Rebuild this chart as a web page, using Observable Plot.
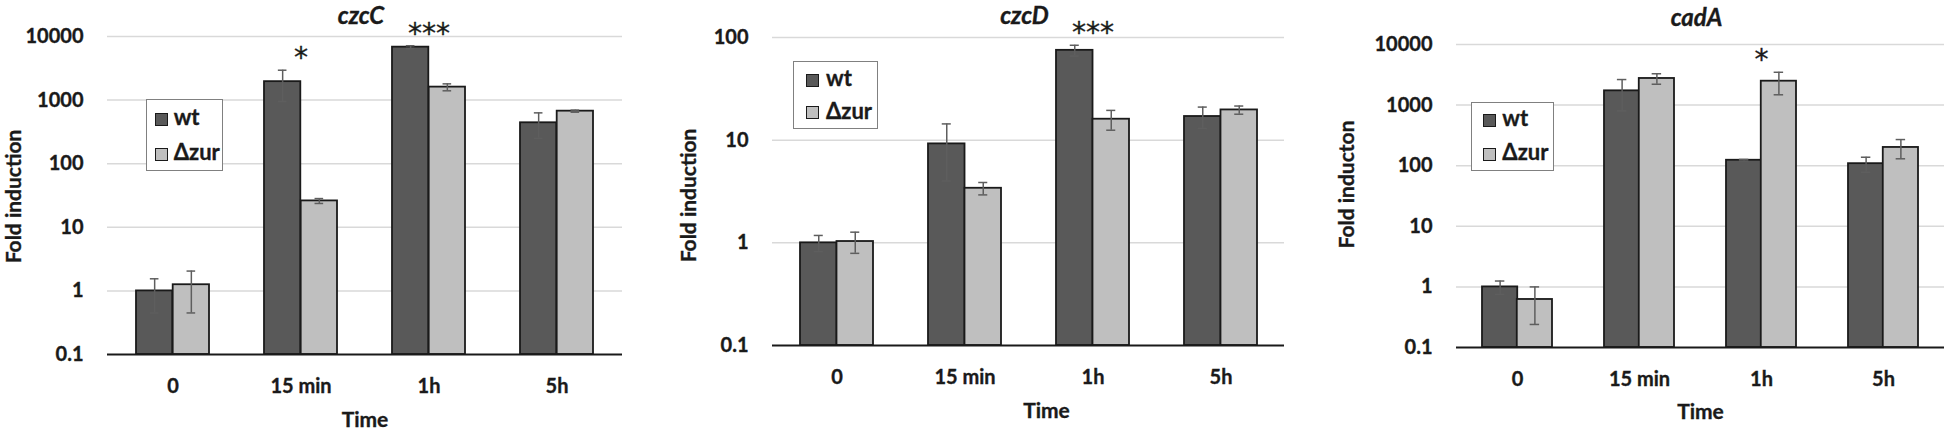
<!DOCTYPE html>
<html><head><meta charset="utf-8">
<script src="https://cdn.jsdelivr.net/npm/d3@7"></script>
<script src="https://cdn.jsdelivr.net/npm/@observablehq/plot@0.6"></script>
<style>
body{margin:0;background:#fff;}
#wrap{position:relative;width:1944px;height:431px;overflow:hidden;background:#fff;font-family:Lato,sans-serif;}
.panel{position:absolute;top:0;}
.panel text{paint-order:stroke;stroke:#1a1a1a;stroke-width:0.35px;}
.legend{position:absolute;border:1.5px solid #808080;background:#fff;box-sizing:border-box;}
.sw{position:absolute;width:13.5px;height:13.5px;border:1.5px solid #1a1a1a;box-sizing:border-box;}
.lt{position:absolute;font-family:Lato,sans-serif;font-weight:bold;font-size:22px;color:#1a1a1a;line-height:22px;white-space:nowrap;-webkit-text-stroke:0.35px #1a1a1a;}
</style></head><body><div id="wrap"></div>
<script>
// ---- data ----
const times = ["0", "15 min", "1h", "5h"];
const seriesNames = ["wt", "\u0394zur"];
const seriesColors = ["#595959", "#bfbfbf"];

const czcC_wt = [1.0, 1950, 6800, 440];
const czcC_wtErr = [0.55, 1000, 350, 190];
const czcC_zur = [1.25, 26, 1600, 670];
const czcC_zurErr = [0.8, 2.3, 200, 25];
const czcC_stars = [{time: "15 min", label: "*"}, {time: "1h", label: "***"}];
const czcC_ticks = [0.1, 1, 10, 100, 1000, 10000];

const czcD_wt = [1.0, 9.2, 75, 17];
const czcD_wtErr = [0.18, 5.2, 9, 4];
const czcD_zur = [1.03, 3.4, 16, 19.7];
const czcD_zurErr = [0.24, 0.47, 3.5, 1.8];
const czcD_stars = [{time: "1h", label: "***"}];
const czcD_ticks = [0.1, 1, 10, 100];

const cadA_wt = [1.0, 1720, 123, 108];
const cadA_wtErr = [0.25, 920, 4, 30];
const cadA_zur = [0.62, 2750, 2480, 200];
const cadA_zurErr = [0.38, 540, 1000, 70];
const cadA_stars = [{time: "1h", label: "*"}];
const cadA_ticks = [0.1, 1, 10, 100, 1000, 10000];

// ---- layout ----
const PAD_IN = 0.43, PAD_OUT = 0.215;
const panels = [
  {title: "czcC", ylabel: "Fold induction", wt: czcC_wt, wtErr: czcC_wtErr, zur: czcC_zur, zurErr: czcC_zurErr,
   stars: czcC_stars, ticks: czcC_ticks, left: 0, width: 640, ml: 107, mr: 18, mt: 36, mb: 77,
   titleDy: -20, timeDy: 66, ylDx: -93.5, ylDy: 1,
   legend: {left: 145.7, top: 99, w: 77.6, h: 71.7, sx: 8.3, sy: [12.7, 47.7], tx: 27}},
  {title: "czcD", ylabel: "Fold induction", wt: czcD_wt, wtErr: czcD_wtErr, zur: czcD_zur, zurErr: czcD_zurErr,
   stars: czcD_stars, ticks: czcD_ticks, left: 640, width: 660, ml: 132, mr: 16, mt: 37, mb: 86,
   titleDy: -21, timeDy: 66, ylDx: -83.7, ylDy: 4, timeDx: 18,
   legend: {left: 793.3, top: 60.7, w: 84.4, h: 68.6, sx: 11.7, sy: [12, 44.3], tx: 31.7}},
  {title: "cadA", ylabel: "Fold inducton", wt: cadA_wt, wtErr: cadA_wtErr, zur: cadA_zur, zurErr: cadA_zurErr,
   stars: cadA_stars, ticks: cadA_ticks, left: 1300, width: 644, ml: 156, mr: 0, mt: 44, mb: 84,
   titleDy: -26, timeDy: 65, ylDx: -109.3, ylDy: -11.5,
   legend: {left: 1470.7, top: 102.3, w: 83.3, h: 68.4, sx: 11, sy: [10.4, 44.4], tx: 30.6}}
];

const wrap = document.getElementById("wrap");

function makePanel(p) {
  const wtRows = times.map((t, i) => ({time: t, value: p.wt[i], err: p.wtErr[i]}));
  const zurRows = times.map((t, i) => ({time: t, value: p.zur[i], err: p.zurErr[i]}));
  const W = p.width - p.ml - p.mr;
  const step = W / times.length;
  const bw = step * (1 - PAD_IN);
  const half = bw / 2;
  const q = bw / 4;
  const cap = 4.5;
  const yMin = p.ticks[0];
  const topOf = t => Math.max(
    ...wtRows.filter(r => r.time === t).map(r => r.value + r.err),
    ...zurRows.filter(r => r.time === t).map(r => r.value + r.err));
  const starRows = p.stars.map(s => ({...s, y: topOf(s.time)}));
  const errStroke = "#5e5e5e";

  const chart = Plot.plot({
    width: p.width,
    height: 431,
    marginLeft: p.ml, marginRight: p.mr, marginTop: p.mt, marginBottom: p.mb,
    style: {fontFamily: "Lato, sans-serif", fontSize: "20px", fontWeight: "bold", color: "#1a1a1a", background: "transparent", overflow: "visible"},
    x: {domain: times, paddingInner: PAD_IN, paddingOuter: PAD_OUT, tickSize: 0, tickPadding: 24, label: null},
    y: {type: "log", domain: [yMin, p.ticks[p.ticks.length - 1]], ticks: p.ticks, tickFormat: d => String(d), tickSize: 0, tickPadding: 24, label: null},
    marks: [
      Plot.ruleY(p.ticks.slice(1), {stroke: "#d9d9d9", strokeWidth: 1.5}),
      Plot.barY(wtRows, {x: "time", y1: () => yMin, y2: "value", fill: seriesColors[0], stroke: "#1a1a1a", strokeWidth: 1.8, insetRight: half}),
      Plot.barY(zurRows, {x: "time", y1: () => yMin, y2: "value", fill: seriesColors[1], stroke: "#1a1a1a", strokeWidth: 1.8, insetLeft: half}),
      Plot.ruleX(wtRows, {x: "time", y1: d => d.value - d.err, y2: d => d.value + d.err, dx: -q, stroke: errStroke, strokeWidth: 1.5}),
      Plot.ruleX(zurRows, {x: "time", y1: d => d.value - d.err, y2: d => d.value + d.err, dx: q, stroke: errStroke, strokeWidth: 1.5}),
      Plot.tickY(wtRows, {x: "time", y: d => d.value + d.err, insetLeft: q - cap, insetRight: bw - q - cap, stroke: errStroke, strokeWidth: 1.5}),
      Plot.tickY(wtRows, {x: "time", y: d => d.value - d.err, insetLeft: q - cap, insetRight: bw - q - cap, stroke: errStroke, strokeWidth: 1.5}),
      Plot.tickY(zurRows, {x: "time", y: d => d.value + d.err, insetLeft: bw - q - cap, insetRight: q - cap, stroke: errStroke, strokeWidth: 1.5}),
      Plot.tickY(zurRows, {x: "time", y: d => d.value - d.err, insetLeft: bw - q - cap, insetRight: q - cap, stroke: errStroke, strokeWidth: 1.5}),
      Plot.ruleY([yMin], {stroke: "#1a1a1a", strokeWidth: 2}),
      Plot.text(starRows, {x: "time", y: "y", text: "label", dy: -12, lineAnchor: "middle", textAnchor: "middle", fontSize: 28, fontWeight: "normal", fontFamily: "DejaVu Sans, sans-serif", fill: "#1a1a1a"}),
      Plot.text([p.title], {text: d => d, frameAnchor: "top", lineAnchor: "middle", textAnchor: "middle", dy: p.titleDy, dx: -4, fontSize: 24, fontStyle: "italic", fontWeight: "bold", fill: "#1a1a1a"}),
      Plot.text(["Time"], {text: d => d, frameAnchor: "bottom", lineAnchor: "middle", textAnchor: "middle", dy: p.timeDy, dx: p.timeDx || 0, fontSize: 21, fontWeight: "bold", fill: "#1a1a1a"}),
      Plot.text([p.ylabel], {text: d => d, frameAnchor: "left", lineAnchor: "middle", textAnchor: "middle", rotate: -90, dx: p.ylDx, dy: p.ylDy, fontSize: 21, fontWeight: "bold", fill: "#1a1a1a"})
    ]
  });
  chart.classList.add("panel");
  chart.style.left = p.left + "px";
  wrap.appendChild(chart);

  // legend (HTML overlay inside the plot area)
  const L = p.legend;
  const box = document.createElement("div");
  box.className = "legend";
  Object.assign(box.style, {left: L.left + "px", top: L.top + "px", width: L.w + "px", height: L.h + "px"});
  seriesNames.forEach((name, i) => {
    const sw = document.createElement("div");
    sw.className = "sw";
    Object.assign(sw.style, {left: L.sx + "px", top: L.sy[i] + "px", background: seriesColors[i]});
    box.appendChild(sw);
    const tx = document.createElement("div");
    tx.className = "lt";
    tx.textContent = name;
    Object.assign(tx.style, {left: L.tx + "px", top: (L.sy[i] + 6.75 - 13) + "px"});
    box.appendChild(tx);
  });
  wrap.appendChild(box);
}

panels.forEach(makePanel);
</script>
</body></html>
